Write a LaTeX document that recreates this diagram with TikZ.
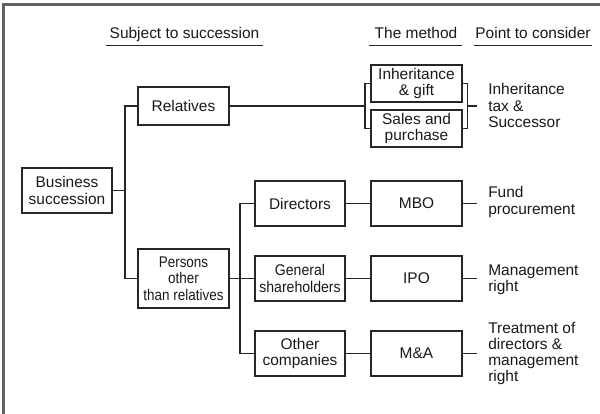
\documentclass[tikz,border=0pt]{standalone}
\usepackage{fontspec}
\setmainfont{Liberation Sans}
\newfontfamily\narrowA[FakeStretch=0.87]{Liberation Sans}
\newfontfamily\narrowB[FakeStretch=0.91]{Liberation Sans}
\begin{document}
\begin{tikzpicture}[x=0.75pt,y=-0.75pt,
  every node/.style={font=\fontsize{11.6}{12.2}\selectfont, text=black!90},
  box/.style={draw=black!85, line width=1.1pt, rectangle, inner sep=0pt,
    align=center, minimum width=91*0.75pt, minimum height=45*0.75pt},
  link/.style={draw=black!85, line width=1.1pt},
  head/.style={anchor=base, inner sep=0pt},
  uline/.style={draw=black!85, line width=1.1pt},
  note/.style={anchor=west, align=left, inner sep=0pt},
  frame/.style={draw=black!62, line width=1.6pt}]
\useasboundingbox (0,0) rectangle (600,414);

% outer frame (top and left edges)
\draw[frame] (3.5,414) -- (3.5,4.5) -- (600,4.5);

% column headings
\node[head] (h1) at (184.5,38) {Subject to succession};
\node[head] (h2) at (416,38) {The method};
\node[head] (h3) at (533,38) {Point to consider};
\draw[uline] ([xshift=-2.5,yshift=-5.5]h1.base west) -- ([xshift=2.5,yshift=-5.5]h1.base east);
\draw[uline] ([xshift=-4,yshift=-5.5]h2.base west) -- ([xshift=3,yshift=-5.5]h2.base east);
\draw[uline] ([xshift=-1,yshift=-5.5]h3.base west) -- ([xshift=1,yshift=-5.5]h3.base east);

% boxes
\node[box, minimum width=90*0.75pt] (biz) at (67,190.5) {Business\\succession};
\node[box, minimum height=38*0.75pt] (rel) at (183.5,106) {Relatives};
\node[box, minimum height=59*0.75pt, font=\fontsize{11.6}{12.2}\narrowA] (per) at (183.5,278.5) {Persons\\other\\than relatives};
\node[box, minimum width=90*0.75pt] (dir) at (300,203.5) {Directors};
\node[box, minimum width=90*0.75pt, font=\fontsize{11.6}{12.2}\narrowB] (gen) at (300,278.5) {General\\shareholders};
\node[box, minimum width=90*0.75pt] (oth) at (300,353.5) {Other\\companies};
\node[box, minimum height=37*0.75pt] (inh) at (416.5,83.5) {Inheritance\\\& gift};
\node[box, minimum height=37*0.75pt] (sal) at (416.5,128.5) {Sales and\\purchase};
\node[box] (mbo) at (416.5,203.5) {MBO};
\node[box] (ipo) at (416.5,278.5) {IPO};
\node[box] (mna) at (416.5,353.5) {M\&A};

% points to consider
\node[note] (p1) at (488,105.5) {Inheritance\\tax \&\\Successor};
\node[note] (p2) at (488,202) {Fund\\procurement};
\node[note] (p3) at (488,279.5) {Management\\right};
\node[note] (p4) at (488,353.5) {Treatment of\\directors \&\\management\\right};

% junction points
\coordinate (j1) at (125,190.5);
\coordinate (j2) at (240,278.5);
\coordinate (jl) at (365,106);
\coordinate (jr) at (467.5,106);

% connectors
\draw[link] (biz.east) -- (j1);
\draw[link] (rel.west) -| (j1) |- (per.west);
\draw[link] (per.east) -- (gen.west);
\draw[link] (dir.west) -| (j2) |- (oth.west);
\draw[link] (rel.east) -- (jl);
\draw[link] (inh.west) -| (jl) |- (sal.west);
\draw[link] (inh.east) -| (jr) |- (sal.east);
\draw[link] (jr) -- ([xshift=-8]p1.west |- jr);
\draw[link] (dir.east) -- (mbo.west);
\draw[link] (gen.east) -- (ipo.west);
\draw[link] (oth.east) -- (mna.west);
\draw[link] (mbo.east) -- ([xshift=-8]p2.west |- mbo.east);
\draw[link] (ipo.east) -- ([xshift=-8]p3.west |- ipo.east);
\draw[link] (mna.east) -- ([xshift=-8]p4.west |- mna.east);
\end{tikzpicture}
\end{document}
